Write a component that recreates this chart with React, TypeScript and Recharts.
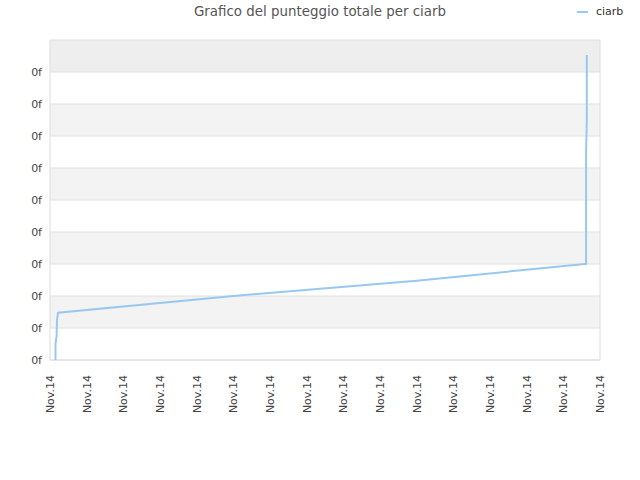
import React from "react";
import { LineChart, Line, XAxis, YAxis, ReferenceArea, ReferenceLine } from "recharts";

const title = "Grafico del punteggio totale per ciarb";
const seriesName = "ciarb";
const xTickLabel = "Nov.14";
const yTickLabel = "0f";
const xTicks = [0, 1, 2, 3, 4, 5, 6, 7, 8, 9, 10, 11, 12, 13, 14, 15];
const yTicks = [0, 1, 2, 3, 4, 5, 6, 7, 8, 9];
const pointX = [0.15, 0.15, 0.18, 0.19, 0.22, 5, 10, 14.59, 14.62, 14.62, 14.64, 14.64];
const pointY = [0, 0.5, 0.75, 1.25, 1.48, 2.0, 2.48, 3.0, 3.0, 6.5, 7.5, 9.53];
const grayBands = [
  [1, 2],
  [3, 4],
  [5, 6],
  [7, 8],
];
const topBand = [9, 10];

const data = pointX.map((x, i) => ({ x, y: pointY[i] }));

const FONT = "'DejaVu Sans', Verdana, sans-serif";

const XTick = (props: any) => {
  const { x, y } = props;
  return (
    <g transform={`translate(${x},${y})`}>
      <text
        transform="rotate(-90)"
        x={-7}
        y={0}
        dy="0.35em"
        textAnchor="end"
        fill="#444"
        fontSize={11}
        fontFamily={FONT}
      >
        {xTickLabel}
      </text>
    </g>
  );
};

const YTick = (props: any) => {
  const { y } = props;
  return (
    <text x={42} y={y} dy="0.35em" textAnchor="end" fill="#444" fontSize={11} fontFamily={FONT}>
      {yTickLabel}
    </text>
  );
};

export default function App() {
  return (
    <div style={{ position: "absolute", left: 0, top: 0, width: 640, height: 480, background: "#fff" }}>
      <div
        style={{
          position: "absolute",
          left: 0,
          top: 4,
          width: 640,
          textAlign: "center",
          fontFamily: FONT,
          fontSize: 13.4,
          color: "#555",
        }}
      >
        {title}
      </div>
      <div
        style={{
          position: "absolute",
          left: 577,
          top: 5,
          display: "flex",
          alignItems: "center",
          fontFamily: FONT,
          fontSize: 11,
          color: "#333",
        }}
      >
        <span style={{ display: "inline-block", width: 11, height: 2, background: "#99c7f2", marginRight: 8 }} />
        {seriesName}
      </div>
      <LineChart
        width={640}
        height={480}
        data={data}
        margin={{ top: 40, right: 40, bottom: 0, left: 0 }}
      >
        {grayBands.map((b, i) => (
          <ReferenceArea key={i} y1={b[0]} y2={b[1]} x1={0} x2={15} fill="#f3f3f3" fillOpacity={1} stroke="none" />
        ))}
        <ReferenceArea y1={topBand[0]} y2={topBand[1]} x1={0} x2={15} fill="#eeeeee" fillOpacity={1} stroke="none" />
        {yTicks.map((t) => (
          <ReferenceLine key={`l${t}`} y={t} stroke="#e0e0e0" strokeWidth={1} />
        ))}
        <ReferenceArea y1={0} y2={10} x1={0} x2={15} fill="none" stroke="#dcdcdc" />
        <XAxis
          dataKey="x"
          type="number"
          domain={[0, 15]}
          ticks={xTicks}
          interval={0}
          height={120}
          tick={<XTick />}
          tickLine={false}
          axisLine={false}
        />
        <YAxis
          type="number"
          domain={[0, 10]}
          ticks={yTicks}
          interval={0}
          width={50}
          tick={<YTick />}
          tickLine={false}
          axisLine={false}
        />
        <Line
          type="linear"
          dataKey="y"
          stroke="#99c7f2"
          strokeWidth={2}
          dot={false}
          isAnimationActive={false}
        />
      </LineChart>
    </div>
  );
}
